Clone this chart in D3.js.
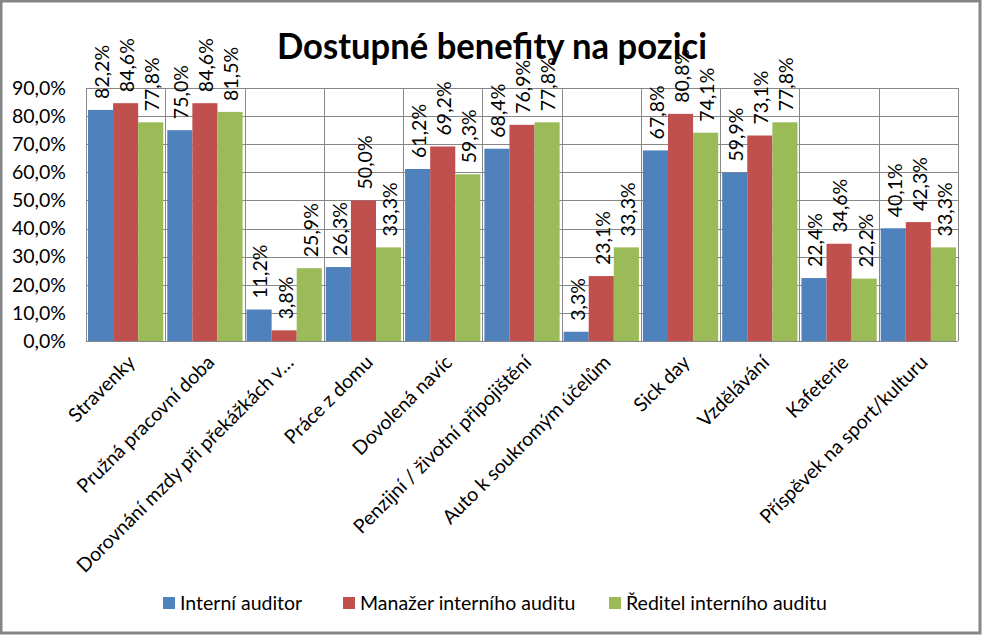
<!DOCTYPE html>
<html>
<head>
<meta charset="utf-8">
<script src="https://cdn.jsdelivr.net/npm/d3@7"></script>
<style>
  html, body { margin: 0; padding: 0; background: #fff; }
  svg { display: block; font-family: Lato, "Open Sans", sans-serif; }
</style>
</head>
<body>
<svg id="chart" width="982" height="635"></svg>
<script>
const title = "Dostupné benefity na pozici";
const categories = [
  "Stravenky",
  "Pružná pracovní doba",
  "Dorovnání mzdy při překážkách v…",
  "Práce z domu",
  "Dovolená navíc",
  "Penzijní / životní připojištění",
  "Auto k soukromým účelům",
  "Sick day",
  "Vzdělávání",
  "Kafeterie",
  "Příspěvek na sport/kulturu"
];
const seriesNames = ["Interní auditor", "Manažer interního auditu", "Ředitel interního auditu"];
const interniAuditor = [82.2, 75.0, 11.2, 26.3, 61.2, 68.4, 3.3, 67.8, 59.9, 22.4, 40.1];
const manazer = [84.6, 84.6, 3.8, 50.0, 69.2, 76.9, 23.1, 80.8, 73.1, 34.6, 42.3];
const reditel = [77.8, 81.5, 25.9, 33.3, 59.3, 77.8, 33.3, 74.1, 77.8, 22.2, 33.3];
const yTicks = [0, 10, 20, 30, 40, 50, 60, 70, 80, 90];
const colors = ["#4F81BD", "#C0504D", "#9BBB59"];

const seriesValues = [interniAuditor, manazer, reditel];
const fmt = v => v.toFixed(1).replace(".", ",") + "%";
const FS = 19.5;

const svg = d3.select("#chart");
const W = 982, H = 635;
const plot = { left: 86, right: 958, top: 88, bottom: 341 };

// outer border
svg.append("rect").attr("x", 1).attr("y", 1).attr("width", W - 3).attr("height", H - 3)
  .attr("fill", "#fff").attr("stroke", "#868686").attr("stroke-width", 3);

const x0 = d3.scaleBand().domain(categories).range([plot.left, plot.right]).paddingInner(0).paddingOuter(0);
const x1 = d3.scaleBand().domain(seriesNames).range([2, x0.bandwidth() - 2]).padding(0);
const y = d3.scaleLinear().domain([0, 90]).range([plot.bottom, plot.top]);

const grid = svg.append("g").attr("stroke", "#878787").attr("stroke-width", 1).attr("shape-rendering", "crispEdges");
grid.selectAll("line.h").data(yTicks).join("line")
  .attr("x1", plot.left).attr("x2", plot.right)
  .attr("y1", d => Math.round(y(d)) + 0.5).attr("y2", d => Math.round(y(d)) + 0.5);
grid.selectAll("line.v").data(d3.range(categories.length + 1)).join("line")
  .attr("x1", i => Math.round(plot.left + i * x0.bandwidth()) + 0.5)
  .attr("x2", i => Math.round(plot.left + i * x0.bandwidth()) + 0.5)
  .attr("y1", plot.top).attr("y2", plot.bottom);

// y labels
const yAxis = d3.axisLeft(y).tickValues(yTicks).tickSize(0).tickPadding(20)
  .tickFormat(d => d.toFixed(1).replace(".", ",") + "%");
const ya = svg.append("g").attr("transform", `translate(${plot.left},0)`).call(yAxis);
ya.select(".domain").remove();
ya.selectAll("text").attr("font-size", FS).attr("fill", "#000").attr("font-family", "Lato");

// bars
const rows = categories.map((c, i) => ({ cat: c, vals: seriesNames.map((s, j) => ({ s, j, v: seriesValues[j][i] })) }));
const groups = svg.append("g").selectAll("g").data(rows).join("g")
  .attr("transform", d => `translate(${x0(d.cat)},0)`);
groups.selectAll("rect").data(d => d.vals).join("rect")
  .attr("x", d => x1(d.s)).attr("width", x1.bandwidth())
  .attr("y", d => y(d.v)).attr("height", d => y(0) - y(d.v))
  .attr("fill", d => colors[d.j]);
groups.selectAll("text").data(d => d.vals).join("text")
  .attr("transform", d => `translate(${x1(d.s) + x1.bandwidth() / 2 + 1.5},${y(d.v) - 11}) rotate(-90)`)
  .attr("text-anchor", "start").attr("dy", "0.35em")
  .attr("font-size", FS).attr("fill", "#000")
  .text(d => fmt(d.v));

// x labels
const xa = svg.append("g");
xa.selectAll("text").data(categories).join("text")
  .attr("transform", d => `translate(${x0(d) + x0.bandwidth() / 2 + 1},${plot.bottom + 13}) rotate(-45)`)
  .attr("text-anchor", "end").attr("dy", "0.7em")
  .attr("font-size", FS).attr("fill", "#000")
  .text(d => d);

// title
svg.append("text").attr("x", 492).attr("y", 59).attr("text-anchor", "middle")
  .attr("font-size", 37).attr("font-weight", "bold").attr("fill", "#000")
  .attr("textLength", 430).attr("lengthAdjust", "spacingAndGlyphs")
  .text(title);

// legend
const legendX = [163, 343, 609];
const lg = svg.append("g").selectAll("g").data(seriesNames).join("g")
  .attr("transform", (d, i) => `translate(${legendX[i]},597)`);
lg.append("rect").attr("width", 12).attr("height", 12).attr("fill", (d, i) => colors[i]);
lg.append("text").attr("x", 17).attr("y", 13).attr("font-size", FS).attr("fill", "#000").text(d => d);
</script>
</body>
</html>
